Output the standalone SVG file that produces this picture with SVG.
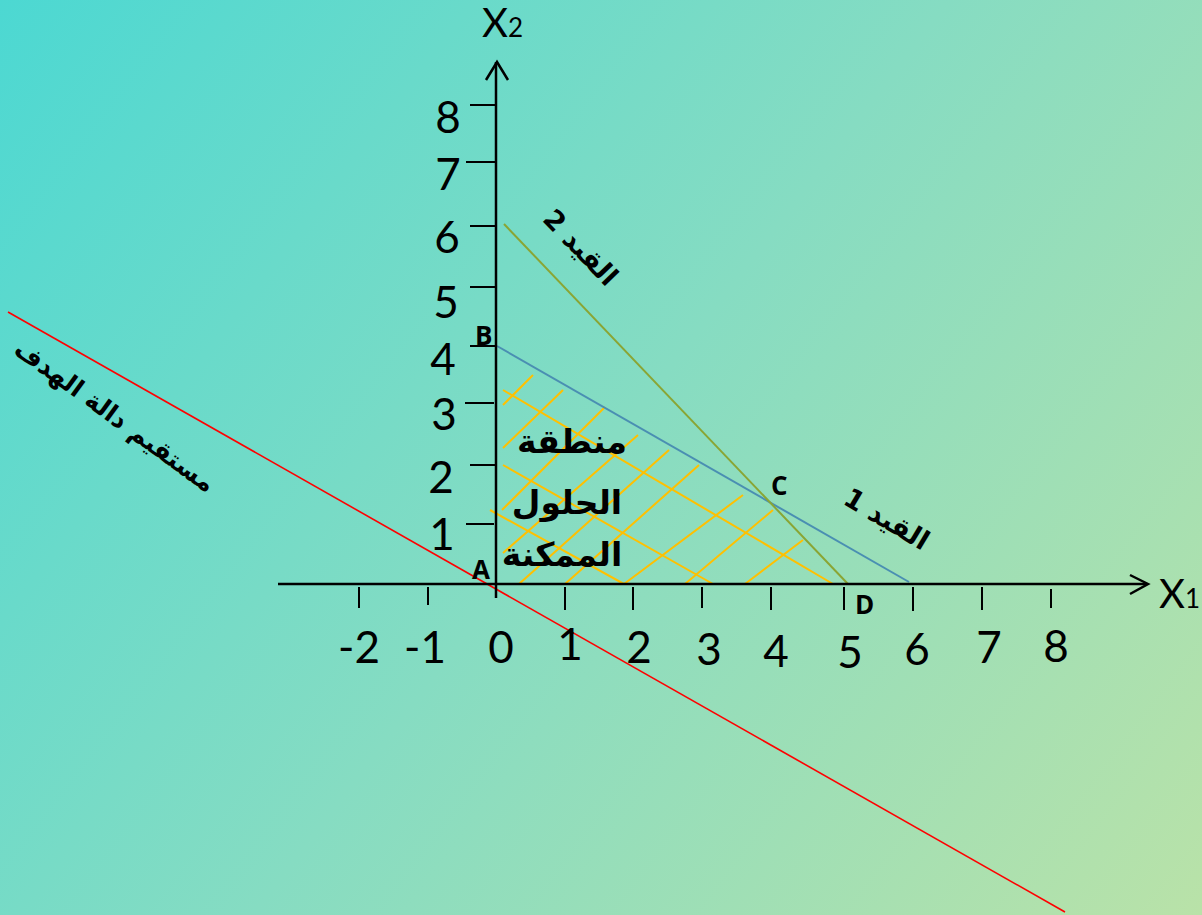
<svg xmlns="http://www.w3.org/2000/svg" width="1202" height="915" viewBox="0 0 1202 915">
<defs>
<linearGradient id="bg" x1="0" y1="0" x2="1202" y2="915" gradientUnits="userSpaceOnUse">
<stop offset="0" stop-color="#4cd8d2"/>
<stop offset="0.5" stop-color="#86dcc2"/>
<stop offset="1" stop-color="#b9e2a8"/>
</linearGradient>
<style>
.ax{stroke:#000;stroke-width:2.5;fill:none}
.tk{stroke:#000;stroke-width:2;fill:none}
.num{font-family:Lato,"Open Sans",sans-serif;font-size:44px;fill:#000;text-anchor:middle}
.pt{font-family:"Open Sans","DejaVu Sans",sans-serif;font-size:26px;font-weight:bold;fill:#000}
.ar{font-family:"DejaVu Sans",sans-serif;font-weight:bold;fill:#000}
.h{stroke:#ffc000;stroke-width:2;fill:none}
</style>
</defs>
<rect width="1202" height="915" fill="url(#bg)"/>

<g id="hatch">
<line class="h" x1="503" y1="390" x2="833" y2="584"/>
<line class="h" x1="503" y1="465" x2="713" y2="584"/>
<line class="h" x1="490" y1="510" x2="624" y2="584"/>
<line class="h" x1="503" y1="405" x2="533" y2="375"/>
<line class="h" x1="503" y1="448" x2="563" y2="390"/>
<line class="h" x1="502" y1="510" x2="605" y2="407"/>
<line class="h" x1="503" y1="553" x2="638" y2="435"/>
<line class="h" x1="519" y1="584" x2="669" y2="450"/>
<line class="h" x1="565" y1="584" x2="699" y2="465"/>
<line class="h" x1="624" y1="584" x2="743" y2="495"/>
<line class="h" x1="685" y1="584" x2="773" y2="510"/>
<line class="h" x1="745" y1="584" x2="803" y2="540"/>
</g>

<g id="connectors">
<line x1="8" y1="312" x2="1065" y2="912" stroke="#ff0000" stroke-width="1.6"/>
<line x1="497" y1="346" x2="909" y2="582" stroke="#4a8fb2" stroke-width="2"/>
<line x1="504" y1="224" x2="848" y2="584" stroke="#8aa534" stroke-width="2"/>
</g>

<g id="axes">
<line class="ax" x1="278" y1="584" x2="1147" y2="584"/>
<polyline class="ax" points="1130,575 1148,584 1130,594"/>
<line class="ax" x1="496" y1="62" x2="496" y2="598"/>
<polyline class="ax" points="486,80 497,62 508,80"/>
<text x="482" y="37" font-family="Lato,'Open Sans',sans-serif" font-size="40" fill="#000">X<tspan font-size="26">2</tspan></text>
<text x="1159" y="608" font-family="Lato,'Open Sans',sans-serif" font-size="40" fill="#000">X<tspan font-size="26">1</tspan></text>
</g>

<g id="xticks">
<line class="tk" x1="359" y1="587" x2="359" y2="608"/>
<line class="tk" x1="428" y1="587" x2="428" y2="605"/>
<line class="tk" x1="565" y1="587" x2="565" y2="610"/>
<line class="tk" x1="633" y1="587" x2="633" y2="610"/>
<line class="tk" x1="702" y1="587" x2="702" y2="608"/>
<line class="tk" x1="771" y1="587" x2="771" y2="610"/>
<line class="tk" x1="844" y1="587" x2="844" y2="610"/>
<line class="tk" x1="913" y1="587" x2="913" y2="611"/>
<line class="tk" x1="982" y1="587" x2="982" y2="610"/>
<line class="tk" x1="1051" y1="589" x2="1051" y2="608"/>
<text class="num" x="359" y="663">-2</text>
<text class="num" x="425" y="663">-1</text>
<text class="num" x="501" y="663">0</text>
<text class="num" x="570" y="660">1</text>
<text class="num" x="639" y="663">2</text>
<text class="num" x="709" y="665">3</text>
<text class="num" x="776" y="667">4</text>
<text class="num" x="850" y="668">5</text>
<text class="num" x="917" y="665">6</text>
<text class="num" x="989" y="663">7</text>
<text class="num" x="1056" y="662">8</text>
</g>

<g id="yticks">
<line class="tk" x1="470" y1="105" x2="496" y2="105"/>
<line class="tk" x1="466" y1="162" x2="496" y2="162"/>
<line class="tk" x1="470" y1="226" x2="496" y2="226"/>
<line class="tk" x1="470" y1="287" x2="496" y2="287"/>
<line class="tk" x1="470" y1="346" x2="496" y2="346"/>
<line class="tk" x1="465" y1="403" x2="494" y2="403"/>
<line class="tk" x1="470" y1="465" x2="496" y2="465"/>
<line class="tk" x1="466" y1="524" x2="494" y2="524"/>
<text class="num" x="448" y="133">8</text>
<text class="num" x="448" y="190">7</text>
<text class="num" x="447" y="253">6</text>
<text class="num" x="446" y="318">5</text>
<text class="num" x="443" y="375">4</text>
<text class="num" x="444" y="430">3</text>
<text class="num" x="441" y="493">2</text>
<text class="num" x="442" y="550">1</text>
</g>

<g id="points">
<text class="pt" x="472" y="579">A</text>
<text class="pt" x="475" y="345">B</text>
<text class="pt" x="771" y="495">C</text>
<text class="pt" x="855" y="614">D</text>
</g>

<g id="region-label">
<text class="ar" font-size="33" text-anchor="middle" x="572" y="453">منطقة</text>
<text class="ar" font-size="33" text-anchor="middle" x="567" y="514">الحلول</text>
<text class="ar" font-size="33" text-anchor="middle" x="562" y="566">الممكنة</text>
</g>

<g id="constraint2-label">
<text class="ar" font-size="27" text-anchor="middle" transform="translate(574,254) rotate(46)">القيد 2</text>
</g>

<g id="constraint1-label">
<text class="ar" font-size="27" text-anchor="middle" transform="translate(882,527) rotate(31)">القيد 1</text>
</g>

<g id="objective-label">
<text class="ar" font-size="25" text-anchor="middle" transform="translate(110,423) rotate(36)">مستقيم دالة الهدف</text>
</g>
</svg>
